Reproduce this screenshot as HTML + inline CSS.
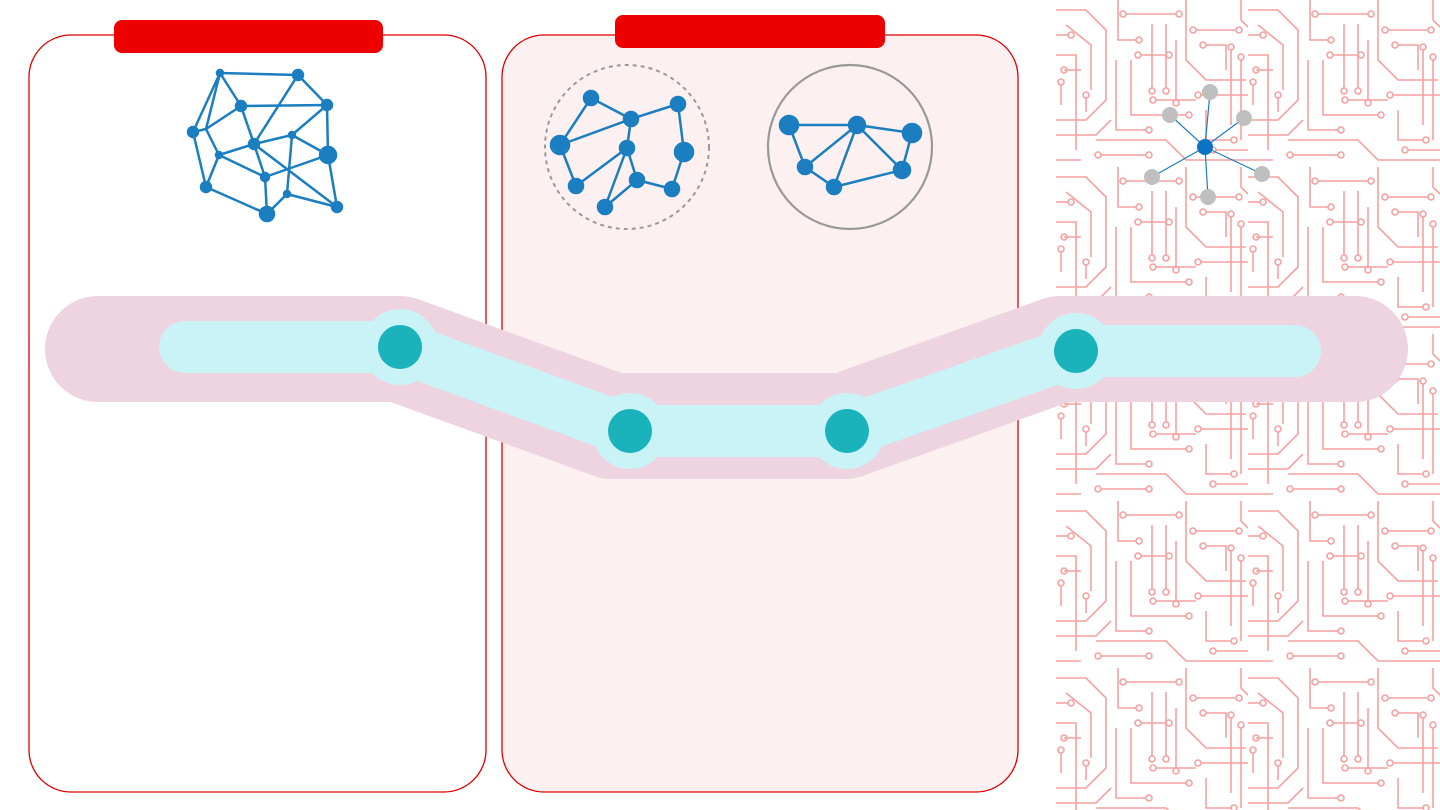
<!DOCTYPE html>
<html><head><meta charset="utf-8"><style>
html,body{margin:0;padding:0;background:#fff;width:1440px;height:810px;overflow:hidden;font-family:"Liberation Sans",sans-serif}
svg{display:block}
</style></head><body>
<svg width="1440" height="810" viewBox="0 0 1440 810">
<defs>
<pattern id="circ" x="1056" y="0" width="192" height="167" patternUnits="userSpaceOnUse">
<g fill="none" stroke="#f7a0a0" stroke-width="1.6">
<path d="M0 10 L30 10 L50 30 L50 100 L30 120 L0 120"/>
<path d="M10 25 L35 45 L35 90"/>
<path d="M0 55 L20 55 L20 150"/>
<path d="M8 70 L25 70"/><circle cx="8" cy="70" r="3"/>
<path d="M62 0 L62 40 L80 40"/><circle cx="83" cy="40" r="3"/>
<path d="M70 14 L120 14"/><circle cx="67" cy="14" r="3"/><circle cx="123" cy="14" r="3"/>
<path d="M96 24 L96 88"/><circle cx="96" cy="91" r="3"/>
<path d="M110 24 L110 88"/><circle cx="110" cy="91" r="3"/>
<path d="M130 0 L130 60 L150 80 L190 80"/>
<path d="M140 30 L180 30"/><circle cx="137" cy="30" r="3"/><circle cx="183" cy="30" r="3"/>
<path d="M150 45 L170 45 L170 70"/><circle cx="147" cy="45" r="3"/>
<path d="M60 60 L60 130 L90 130"/><circle cx="93" cy="130" r="3"/>
<path d="M75 60 L75 115 L130 115"/><circle cx="133" cy="115" r="3"/>
<path d="M40 140 L110 140 L130 160 L192 160"/>
<path d="M145 95 L192 95"/><circle cx="142" cy="95" r="3"/>
<path d="M150 110 L150 140 L175 140"/><circle cx="178" cy="140" r="3"/>
<path d="M0 160 L25 160"/>
<path d="M5 85 L5 105"/><circle cx="5" cy="82" r="3"/>
<path d="M120 40 L120 100"/><circle cx="120" cy="103" r="3"/>
<path d="M45 155 L90 155"/><circle cx="42" cy="155" r="3"/><circle cx="93" cy="155" r="3"/>
<path d="M175 50 L175 125"/><circle cx="175" cy="47" r="3"/>
<path d="M0 35 L12 35"/><circle cx="15" cy="35" r="3"/>
<path d="M85 55 L110 55"/><circle cx="82" cy="55" r="3"/><circle cx="113" cy="55" r="3"/>
<path d="M0 135 L40 135 L55 120"/>
<path d="M185 0 L185 20 L192 27"/>
<path d="M100 100 L140 100"/><circle cx="97" cy="100" r="3"/>
<path d="M160 150 L192 150"/><circle cx="157" cy="150" r="3"/>
<path d="M30 98 L30 112"/><circle cx="30" cy="95" r="3"/>
<path d="M185 60 L185 140"/><circle cx="185" cy="57" r="3"/>
</g>
</pattern>
</defs>

<rect x="1056" y="0" width="384" height="810" fill="url(#circ)"/>

<rect x="29" y="35" width="457" height="757" rx="42" fill="#fff" stroke="#e00000" stroke-width="1.3"/>
<rect x="502" y="35" width="516" height="757" rx="42" fill="#fdf0f0" stroke="#e00000" stroke-width="1.3"/>
<rect x="114" y="20" width="269" height="33" rx="8" fill="#ee0000"/>
<rect x="615" y="15" width="270" height="33" rx="8" fill="#ee0000"/>

<g stroke="#1a7ec0" stroke-width="2.5" fill="#1a7ec0">
<path fill="none" d="M220 73 L298 75 M220 73 L241 106 M220 73 L193 132 M220 73 L206 129 M241 106 L327 105 M298 75 L327 105 M298 75 L254 144 M241 106 L206 129 M241 106 L254 144 M327 105 L292 135 M327 105 L328 155 M193 132 L206 129 M193 132 L206 187 M206 129 L219 155 M219 155 L254 144 M254 144 L292 135 M292 135 L328 155 M254 144 L265 177 M219 155 L265 177 M219 155 L206 187 M265 177 L328 155 M254 144 L337 207 M292 135 L287 194 M206 187 L267 214 M265 177 L267 214 M267 214 L287 194 M287 194 L337 207 M328 155 L337 207"/>
<circle cx="220" cy="73" r="3"/><circle cx="298" cy="75" r="5"/><circle cx="241" cy="106" r="5"/><circle cx="327" cy="105" r="5"/><circle cx="193" cy="132" r="5"/><circle cx="292" cy="135" r="3"/><circle cx="254" cy="144" r="5"/><circle cx="328" cy="155" r="8"/><circle cx="219" cy="155" r="3"/><circle cx="265" cy="177" r="4"/><circle cx="206" cy="187" r="5"/><circle cx="287" cy="194" r="3"/><circle cx="267" cy="214" r="7"/><circle cx="337" cy="207" r="5"/>
</g>

<circle cx="627" cy="147" r="82" fill="none" stroke="#999" stroke-width="2" stroke-dasharray="4 4"/>
<g stroke="#1a7ec0" stroke-width="2.5" fill="#1a7ec0">
<path fill="none" d="M591 98 L631 119 M631 119 L678 104 M678 104 L684 152 M591 98 L560 145 M560 145 L631 119 M631 119 L627 148 M627 148 L576 186 M560 145 L576 186 M627 148 L605 207 M627 148 L637 180 M637 180 L672 189 M684 152 L672 189 M605 207 L637 180"/>
<circle cx="591" cy="98" r="7"/><circle cx="631" cy="119" r="7"/><circle cx="678" cy="104" r="7"/><circle cx="560" cy="145" r="9"/><circle cx="627" cy="148" r="7"/><circle cx="684" cy="152" r="9"/><circle cx="576" cy="186" r="7"/><circle cx="637" cy="180" r="7"/><circle cx="672" cy="189" r="7"/><circle cx="605" cy="207" r="7"/>
</g>
<circle cx="850" cy="147" r="82" fill="none" stroke="#999" stroke-width="2.2"/>
<g stroke="#1a7ec0" stroke-width="2.5" fill="#1a7ec0">
<path fill="none" d="M789 125 L857 125 L912 133 L902 170 L834 187 L805 167 L857 125 L834 187 M789 125 L805 167 M857 125 L902 170"/>
<circle cx="789" cy="125" r="9"/><circle cx="857" cy="125" r="8"/><circle cx="912" cy="133" r="9"/><circle cx="805" cy="167" r="7"/><circle cx="834" cy="187" r="7"/><circle cx="902" cy="170" r="8"/>
</g>

<path d="M98 349 L400 349 L612 426 L845 426 L1060 349 L1355 349" fill="none" stroke="#eed3e0" stroke-width="106" stroke-linecap="round" stroke-linejoin="round"/>
<path d="M185 347 L400 347 L630 431 L847 431 L1076 351 L1295 351" fill="none" stroke="#c9f3f7" stroke-width="52" stroke-linecap="round" stroke-linejoin="round"/>
<g>
<circle cx="400" cy="347" r="38" fill="#c9f3f7"/><circle cx="400" cy="347" r="22" fill="#1ab3bc"/>
<circle cx="630" cy="431" r="38" fill="#c9f3f7"/><circle cx="630" cy="431" r="22" fill="#1ab3bc"/>
<circle cx="847" cy="431" r="38" fill="#c9f3f7"/><circle cx="847" cy="431" r="22" fill="#1ab3bc"/>
<circle cx="1076" cy="351" r="38" fill="#c9f3f7"/><circle cx="1076" cy="351" r="22" fill="#1ab3bc"/>
</g>

<g>
<path d="M1205 147 L1210 92 M1205 147 L1170 115 M1205 147 L1244 118 M1205 147 L1152 177 M1205 147 L1262 174 M1205 147 L1208 197" stroke="#1a7ec0" stroke-width="1.2"/>
<circle cx="1210" cy="92" r="8" fill="#bfbfbf"/><circle cx="1170" cy="115" r="8" fill="#bfbfbf"/><circle cx="1244" cy="118" r="8" fill="#bfbfbf"/><circle cx="1152" cy="177" r="8" fill="#bfbfbf"/><circle cx="1262" cy="174" r="8" fill="#bfbfbf"/><circle cx="1208" cy="197" r="8" fill="#bfbfbf"/>
<circle cx="1205" cy="147" r="8" fill="#0a74c4"/>
</g>
</svg>
</body></html>
